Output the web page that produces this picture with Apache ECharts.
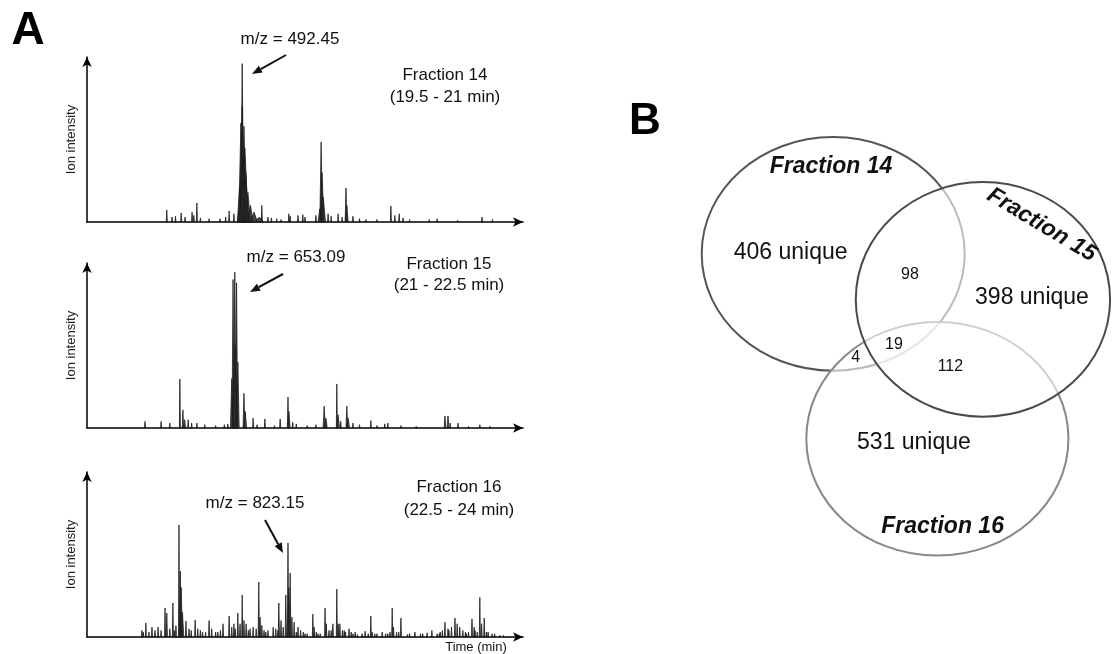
<!DOCTYPE html>
<html lang="en" style="height: 100%">
<head>
  <meta charset="utf-8">
</head>
<body style="height: 100%; margin: 0; background: #fff">
  <div id="container" style="width: 1114px; height: 654px"></div>

<script type="text/javascript" src="https://cdn.jsdelivr.net/npm/echarts@6/dist/echarts.min.js"></script>

<script type="text/javascript">
var dom = document.getElementById('container');
var myChart = echarts.init(dom, null, { renderer: 'canvas' });

// spikes per fraction: [time (relative, 0-100), intensity (% of axis), half width]
var fraction14 = [
  [35.6, 96, 0.35], [35.3, 60, 0.5], [36.0, 58, 0.5], [35.6, 70, 0.6], [36.2, 45, 0.8],
  [35.8, 40, 0.9], [35.9, 25, 1.4], [36.4, 30, 0.6],
  [35.0, 22, 0.5], [36.9, 18, 0.6], [37.5, 10, 0.6], [38.3, 6, 0.8], [39.5, 3, 1.0], [40.1, 10],
  [53.7, 48.5, 0.3], [53.9, 30, 0.45], [54.2, 15, 0.5], [53.4, 8, 0.4],
  [59.4, 20.6, 0.2], [59.6, 10, 0.3],
  [18.3, 7.3], [19.5, 3], [20.3, 3.5], [21.6, 5.5], [22.5, 3], [24.1, 6], [24.5, 4], [25.2, 11.5],
  [26.0, 2.5], [28.0, 2], [30.5, 2], [31.8, 3], [32.6, 6.7], [33.7, 5], [41.5, 3], [42.3, 2.5],
  [43.5, 2], [44.5, 1.5], [46.3, 5], [46.6, 3.5], [48.4, 4], [49.5, 4.5], [50.0, 3], [52.5, 4],
  [55.3, 5], [56.0, 3.5], [57.6, 5], [58.5, 3], [61.0, 3.5], [62.5, 2], [64.0, 1.5], [66.5, 1.5],
  [69.7, 9.7], [70.6, 4], [71.6, 5], [72.5, 2.5], [74.0, 1.5], [78.5, 1.5], [80.3, 2], [85.0, 1],
  [90.6, 3], [93.0, 1.5]
];
var fraction15 = [
  [33.9, 94.5, 0.3], [33.5, 90, 0.25], [34.3, 88, 0.25], [33.9, 50, 0.6], [34.6, 40, 0.3], [33.2, 30, 0.3],
  [36.0, 21, 0.2], [36.3, 10, 0.3], [21.3, 29.7], [22.0, 11, 0.15], [22.4, 5, 0.2], [13.3, 4],
  [17.0, 4], [19.0, 3], [23.2, 5], [24.0, 3], [25.2, 3], [27.0, 2], [29.5, 1.5], [31.5, 2], [32.3, 2.5],
  [38.1, 6], [39.0, 2], [40.8, 5.5], [43.0, 1.5], [44.3, 5.5], [46.1, 18.8, 0.15], [46.3, 10, 0.3],
  [47.2, 3.5], [48.0, 2.5], [50.5, 1.5], [52.5, 2], [54.4, 13.3, 0.25], [54.8, 6, 0.3],
  [57.3, 26.7], [57.6, 8, 0.3], [58.2, 4], [59.6, 13.3, 0.2], [59.9, 6, 0.3], [61.0, 3], [62.5, 2],
  [65.1, 4.5], [66.5, 1.5], [68.3, 2.5], [69.0, 3], [72.0, 1.5], [75.5, 1], [82.1, 7.3, 0.2],
  [82.8, 7.3, 0.2], [83.3, 3], [85.1, 3], [87.5, 1], [90.1, 2], [92.4, 1]
];
var fraction16 = [
  [21.1, 67.9], [21.4, 40, 0.2], [21.6, 30, 0.3], [21.9, 15, 0.3], [19.7, 20.6], [17.9, 17.6],
  [18.3, 14.5, 0.15], [13.5, 8.5], [12.6, 4], [14.9, 6], [16.3, 6], [15.6, 4], [17.0, 4], [20.4, 7],
  [22.7, 9.7], [23.4, 5], [24.8, 10.3], [25.4, 5], [26.5, 3], [28.0, 10], [28.6, 5], [29.5, 3],
  [31.2, 8], [32.6, 12.7], [33.2, 6], [33.7, 8], [34.6, 14.5], [35.1, 8], [35.6, 25.5], [36.0, 10],
  [36.5, 8], [37.4, 5], [38.1, 6], [38.8, 5], [39.4, 33.3, 0.15], [39.7, 12], [40.1, 7], [41.5, 4],
  [42.7, 6], [43.3, 5], [44.0, 20.6, 0.15], [44.5, 10], [45.0, 6], [45.6, 25.5, 0.15],
  [46.1, 57, 0.15], [46.3, 30, 0.3], [46.6, 38.8, 0.15], [47.0, 12], [47.5, 9], [48.4, 6], [49.0, 4],
  [50.5, 2], [51.8, 13.9], [52.1, 6], [53.5, 2], [54.6, 17.6], [54.9, 8], [55.5, 4], [56.4, 8],
  [57.3, 29], [57.6, 8], [58.0, 8], [58.6, 4], [59.3, 3], [60.1, 5], [60.6, 3], [62.0, 1.5],
  [63.1, 2], [63.8, 3.5], [65.1, 12.7], [65.4, 3], [66.5, 2], [67.7, 3], [68.5, 2], [70.0, 17.6],
  [70.3, 6], [71.0, 3], [72.0, 11.5], [73.5, 1.5], [75.2, 3], [76.5, 2], [78.0, 2.5], [79.1, 4],
  [80.3, 2], [81.5, 4], [82.1, 9], [82.8, 5], [83.6, 6], [84.4, 11.5], [84.9, 8], [85.5, 6],
  [86.2, 4], [87.5, 3], [88.3, 11], [88.8, 6], [89.5, 3], [90.1, 24], [90.5, 8], [91.1, 11.5],
  [92.0, 3], [92.9, 2], [94.7, 1],
  [12.9, 3], [14.2, 3], [19.0, 5], [20.0, 4], [23.9, 4], [26.0, 4], [27.2, 3], [30.0, 3], [30.6, 4],
  [34.0, 5], [37.0, 4], [40.6, 4], [41.0, 3], [43.8, 4], [48.0, 3], [49.6, 3], [50.0, 2], [52.6, 3],
  [53.0, 2], [56.0, 4], [59.0, 4], [61.0, 2], [61.5, 3], [64.5, 2], [66.0, 2], [69.0, 2], [69.5, 3],
  [71.5, 3], [74.0, 2], [77.0, 2], [80.8, 2], [81.0, 3], [83.0, 4], [86.8, 3], [87.0, 2], [89.0, 4],
  [91.6, 3], [93.5, 2], [95.5, 1]
];
var spectra = [fraction14, fraction15, fraction16];

var peakLabels = ['m/z = 492.45', 'm/z = 653.09', 'm/z = 823.15'];
var fractionNames = ['Fraction 14', 'Fraction 15', 'Fraction 16'];
var fractionRanges = ['(19.5 - 21 min)', '(21 - 22.5 min)', '(22.5 - 24 min)'];

// Venn sets (ellipses in venn units): [cx, cy, rx, ry]; drawn in order 14, 16, 15
var vennNames = ['Fraction 14', 'Fraction 16', 'Fraction 15'];
var vennSets = [[35.3, 70.9, 30.3, 25.4], [59.3, 30.7, 30.2, 25.4], [69.8, 61.0, 29.3, 25.5]];
var vennCounts = ['406 unique', '398 unique', '531 unique', '98', '19', '4', '112'];

// layout
var gridTops = [57, 263, 472];
var vennStroke = ['#555', '#888', '#4a4a4a'];
var vennFill = ['none', 'rgba(255,255,255,0.6)', 'rgba(255,255,255,0.6)'];
var countPos = [[25.5, 71.1], [81.1, 61.3], [53.9, 29.8], [53.0, 66.5], [49.3, 51.1], [40.5, 48.3], [62.3, 46.3]];
var countSize = [23, 23, 23, 16, 16, 16, 16];
var namePos = [[34.8, 89.8], [60.5, 11.7], [83.3, 77.2]];
var nameRot = [0, 0, -31];

var FONT = '"Liberation Sans", Arial, sans-serif';

var grids = [], xAxes = [], yAxes = [], series = [];
spectra.forEach(function (spec, i) {
  grids.push({ left: 87, top: gridTops[i], width: 436, height: 165 });
  xAxes.push({
    type: 'value', gridIndex: i, min: 0, max: 100,
    axisLine: { show: true, symbol: ['none', 'arrow'], symbolSize: [7, 10], lineStyle: { color: '#000', width: 1.5 } },
    axisTick: { show: false }, axisLabel: { show: false }, splitLine: { show: false }
  });
  yAxes.push({
    type: 'value', gridIndex: i, min: 0, max: 100,
    name: 'Ion intensity', nameLocation: 'middle', nameGap: 9, nameRotate: 90,
    nameTextStyle: { fontFamily: FONT, fontSize: 13, color: '#222' },
    axisLine: { show: true, symbol: ['none', 'arrow'], symbolSize: [7, 10], lineStyle: { color: '#000', width: 1.5 } },
    axisTick: { show: false }, axisLabel: { show: false }, splitLine: { show: false }
  });
  series.push({
    type: 'custom', xAxisIndex: i, yAxisIndex: i,
    data: spec.map(function (s) { return [s[0], s[1], s[2] || 0.12]; }),
    encode: { x: 0, y: 1 },
    renderItem: function (params, api) {
      var t = api.value(0), h = api.value(1), w = api.value(2);
      return {
        type: 'polygon',
        shape: { points: [api.coord([t - w, 0]), api.coord([t, h]), api.coord([t + w, 0])] },
        style: { fill: 'rgba(40,40,40,0.85)', stroke: 'rgba(25,25,25,0.85)', lineWidth: 0.9 }
      };
    }
  });
});

// Venn grid
grids.push({ left: 680, top: 120, width: 440, height: 460 });
xAxes.push({ type: 'value', gridIndex: 3, min: 0, max: 100, show: false });
yAxes.push({ type: 'value', gridIndex: 3, min: 0, max: 100, show: false });
series.push({
  type: 'custom', xAxisIndex: 3, yAxisIndex: 3, z: 2,
  data: vennSets,
  encode: { x: 0, y: 1 },
  renderItem: function (params, api) {
    var c = api.coord([api.value(0), api.value(1)]);
    var r = api.size([api.value(2), api.value(3)]);
    var k = params.dataIndex;
    return {
      type: 'ellipse',
      shape: { cx: c[0], cy: c[1], rx: r[0], ry: r[1] },
      style: { fill: vennFill[k], stroke: vennStroke[k], lineWidth: 2 }
    };
  }
});
series.push({
  type: 'custom', xAxisIndex: 3, yAxisIndex: 3, z: 3,
  data: vennCounts.map(function (c, k) { return [countPos[k][0], countPos[k][1], c]; }),
  encode: { x: 0, y: 1 },
  renderItem: function (params, api) {
    var k = params.dataIndex;
    var p = api.coord([api.value(0), api.value(1)]);
    return {
      type: 'text', x: p[0], y: p[1],
      style: { text: vennCounts[k], align: 'center', verticalAlign: 'middle', fill: '#111',
        font: countSize[k] + 'px ' + FONT }
    };
  }
});
series.push({
  type: 'custom', xAxisIndex: 3, yAxisIndex: 3, z: 3,
  data: vennNames.map(function (n, k) { return [namePos[k][0], namePos[k][1], n]; }),
  encode: { x: 0, y: 1 },
  renderItem: function (params, api) {
    var k = params.dataIndex;
    var p = api.coord([api.value(0), api.value(1)]);
    return {
      type: 'text', x: p[0], y: p[1], rotation: nameRot[k] * Math.PI / 180,
      style: { text: vennNames[k], align: 'center', verticalAlign: 'middle', fill: '#111',
        font: 'italic bold 23px ' + FONT }
    };
  }
});

function arrow(x1, y1, x2, y2) {
  var ang = Math.atan2(y2 - y1, x2 - x1);
  var L = 10, W = 4;
  var bx = x2 - L * Math.cos(ang), by = y2 - L * Math.sin(ang);
  var px = -Math.sin(ang) * W, py = Math.cos(ang) * W;
  return [
    { type: 'line', shape: { x1: x1, y1: y1, x2: bx, y2: by }, style: { stroke: '#111', lineWidth: 2 } },
    { type: 'polygon', shape: { points: [[x2, y2], [bx + px, by + py], [bx - px, by - py]] }, style: { fill: '#111' } }
  ];
}

function txt(s, x, y, size, extra) {
  return {
    type: 'text', x: x, y: y,
    style: Object.assign({ text: s, align: 'center', verticalAlign: 'middle', fill: '#111',
      font: size + 'px ' + FONT }, extra || {})
  };
}

var labelPos = [[290, 39], [296, 257], [255, 503]];
var fracPos = [[445, 75, 97], [449, 264, 285], [459, 487, 510]];
var arrows = [[286, 55, 252, 74], [283, 274, 250, 292], [265, 520, 283, 553]];

var graphics = [
  txt('A', 28, 31, 46, { font: 'bold 46px ' + FONT, fill: '#000' }),
  txt('B', 645, 122, 44, { font: 'bold 44px ' + FONT, fill: '#000' }),
  txt('Time (min)', 476, 647, 13)
];
for (var i = 0; i < 3; i++) {
  graphics.push(txt(peakLabels[i], labelPos[i][0], labelPos[i][1], 17));
  graphics.push(txt(fractionNames[i], fracPos[i][0], fracPos[i][1], 17));
  graphics.push(txt(fractionRanges[i], fracPos[i][0], fracPos[i][2], 17));
  graphics = graphics.concat(arrow.apply(null, arrows[i]));
}

var option = {
  backgroundColor: '#fff',
  animation: false,
  grid: grids,
  xAxis: xAxes,
  yAxis: yAxes,
  series: series,
  graphic: graphics
};

myChart.setOption(option);
window.addEventListener('resize', myChart.resize);
</script>
</body>
</html>
